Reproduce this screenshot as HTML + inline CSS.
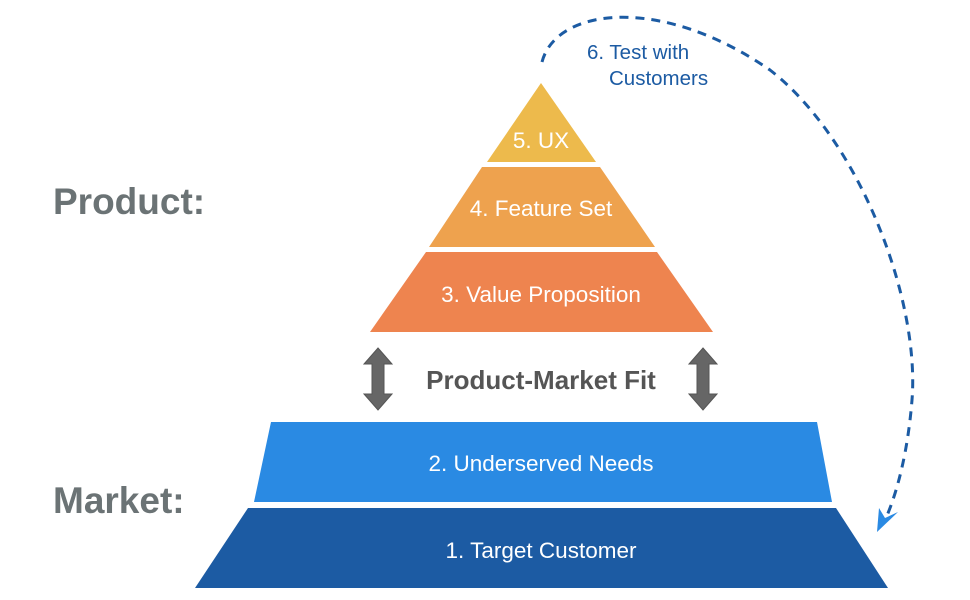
<!DOCTYPE html>
<html><head><meta charset="utf-8"><style>
html,body{margin:0;padding:0;background:#fff;}
svg{display:block;}
text{font-family:"Liberation Sans",sans-serif;}
</style></head><body>
<svg width="970" height="600" viewBox="0 0 970 600" xmlns="http://www.w3.org/2000/svg">
<polygon points="541,83 596,162 487,162" fill="#EDBA4C"/>
<polygon points="482,167 600,167 655,247 429,247" fill="#EEA24E"/>
<polygon points="426,252 657,252 713,332 370,332" fill="#EE844F"/>
<polygon points="271,422 817,422 832,502 254,502" fill="#2A8AE3"/>
<polygon points="248,508 836,508 888,588 195,588" fill="#1C5BA3"/>
<text x="541" y="148" font-size="22.5" fill="#fff" text-anchor="middle">5. UX</text>
<text x="541" y="216" font-size="22.5" fill="#fff" text-anchor="middle">4. Feature Set</text>
<text x="541" y="302" font-size="22.5" fill="#fff" text-anchor="middle">3. Value Proposition</text>
<text x="541" y="471" font-size="22.5" fill="#fff" text-anchor="middle">2. Underserved Needs</text>
<text x="541" y="558" font-size="22.5" fill="#fff" text-anchor="middle">1. Target Customer</text>
<text x="541" y="389" font-size="26" font-weight="bold" fill="#555" text-anchor="middle">Product-Market Fit</text>
<text x="53" y="214" font-size="37" font-weight="bold" fill="#6B7375">Product:</text>
<text x="53" y="513" font-size="37" font-weight="bold" fill="#6B7375">Market:</text>
<g fill="#666" stroke="#555" stroke-width="1">
<polygon points="378,348 392,364 384,364 384,394 392,394 378,410 364,394 372,394 372,364 364,364"/>
<polygon points="703,348 717,364 709,364 709,394 717,394 703,410 689,394 697,394 697,364 689,364"/>
</g>
<path d="M542,62 C556,8 660,-6 770,70 C860,140 920,300 912,400 C908,450 898,490 886,518" fill="none" stroke="#1C5BA3" stroke-width="3" stroke-dasharray="9,7"/>
<polygon points="877,532 879,508 885,518 898,512" fill="#2A8AE3"/>
<text x="587" y="59" font-size="20.5" fill="#1C5BA3">6. Test with</text>
<text x="609" y="85" font-size="20.5" fill="#1C5BA3">Customers</text>
</svg>
</body></html>
